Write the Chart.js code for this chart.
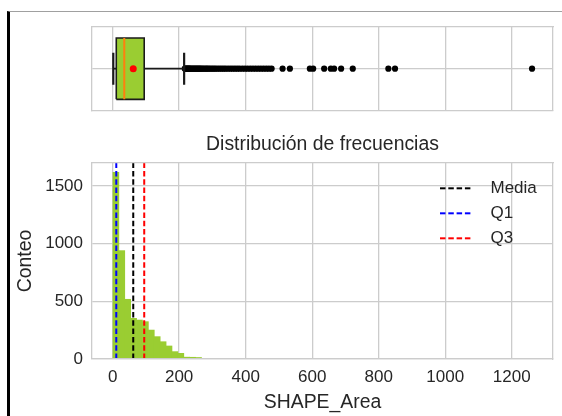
<!DOCTYPE html>
<html><head><meta charset="utf-8">
<script src="https://cdn.jsdelivr.net/npm/chart.js@4.4.1/dist/chart.umd.min.js"></script>
<style>
html,body{margin:0;padding:0;background:#fff;width:562px;height:416px;overflow:hidden;}
#frame{position:absolute;left:7px;top:11px;width:600px;height:420px;border-left:3px solid #000;border-top:1px solid #a0a0a0;}
canvas{position:absolute;left:0;}
#box{top:0;}
#hist{top:120px;}
</style></head><body>
<div id="frame"></div>
<canvas id="box" width="562" height="125"></canvas>
<canvas id="hist" width="562" height="296"></canvas>
<script>
// ---- data ----
const binLeft = [1, 18.75, 36.5, 54.25, 72, 89.75, 107.5, 125.25, 143, 160.75,
  178.5, 196.25, 214, 231.75, 249.5, 267.25, 285, 302.75, 320.5, 338.25,
  356, 373.75, 391.5, 409.25, 427, 444.75, 462.5,
  498, 515.75, 586.75, 622.25, 640, 657.75, 675.5, 711, 817.5, 835.25, 1243.5];
const binCounts = [1618, 940, 518, 353, 338, 324, 251, 194, 150, 113,
  64, 49, 16, 15, 13, 8, 7, 6, 5, 4,
  4, 3, 2, 2, 2, 1, 1,
  1, 1, 2, 1, 1, 1, 1, 1, 2, 1, 1];
const binWidth = 17.75;

const meanValue = 62;
const q1Value = 11;
const medianValue = 35;
const q3Value = 95;
const whiskerLow = 2;
const whiskerHigh = 215;
const outliers = [217, 219, 221, 223, 225, 227, 229, 231, 233, 236, 239, 242, 245, 248,
  251, 254, 257, 260, 263, 266, 270, 274, 278, 282, 286, 290, 295, 300, 305, 310,
  316, 322, 328, 334, 340, 347, 354, 361, 368, 375, 382, 390, 398, 406, 414, 422,
  430, 438, 446, 454, 462, 470, 478,
  511, 533, 593, 603, 636, 656, 666, 687, 722, 829, 849, 1261];

const xTickValues = [0, 200, 400, 600, 800, 1000, 1200];
const xTickLabels = ['0', '200', '400', '600', '800', '1000', '1200'];
const yTickValues = [0, 500, 1000, 1500];
const yTickLabels = ['0', '500', '1000', '1500'];
const legendLabels = ['Media', 'Q1', 'Q3'];
const titleText = 'Distribución de frecuencias';
const xTitle = 'SHAPE_Area';
const yTitle = 'Conteo';

// ---- style ----
const FONT = "'Liberation Sans', Arial, Helvetica, sans-serif";
const TXT = '#262626';
const GRID = '#cccccc';
const GW = 1.3;
const GREEN = '#9acd32';
const X_MIN = -62, X_MAX = 1324;
const Y_MAX = 1700;
const DASH = [5.5, 2.8];
const boxHalf = 0.365, capHalf = 0.19;

Chart.defaults.font.family = FONT;
Chart.defaults.color = TXT;
Chart.defaults.animation = false;

function hiddenAxis(pos) {
  const horiz = pos === 'top' || pos === 'bottom';
  return {
    type: 'linear', position: pos, display: true,
    ticks: {display: false}, grid: {display: false, drawTicks: false},
    border: {display: true, color: GRID, width: GW, z: 1},
    afterFit: s => { if (horiz) s.height = 0; else s.width = 0; }
  };
}

// ---- box plot ----
const boxPoly = [
  {x: q1Value, y: -boxHalf}, {x: q3Value, y: -boxHalf},
  {x: q3Value, y: boxHalf}, {x: q1Value, y: boxHalf}, {x: q1Value, y: -boxHalf}
];
function seg(data, color, w) {
  return {type: 'line', data, borderColor: color, backgroundColor: color, borderWidth: w,
    pointRadius: 0, pointHoverRadius: 0, fill: false, tension: 0};
}
new Chart(document.getElementById('box'), {
  type: 'scatter',
  data: {datasets: [
    {type: 'scatter', data: [{x: meanValue, y: 0}], pointRadius: 3.5, backgroundColor: '#ff0000', borderWidth: 0},
    seg([{x: medianValue, y: -boxHalf}, {x: medianValue, y: boxHalf}], '#ff7f0e', 2),
    {type: 'line', data: boxPoly, borderColor: '#1a1a1a', borderWidth: 1.6, backgroundColor: GREEN,
      fill: 'shape', pointRadius: 0, tension: 0},
    seg([{x: whiskerLow, y: 0}, {x: q1Value, y: 0}], '#1a1a1a', 1.7),
    seg([{x: q3Value, y: 0}, {x: whiskerHigh, y: 0}], '#1a1a1a', 1.7),
    seg([{x: whiskerLow, y: -capHalf}, {x: whiskerLow, y: capHalf}], '#1a1a1a', 2.2),
    seg([{x: whiskerHigh, y: -capHalf}, {x: whiskerHigh, y: capHalf}], '#1a1a1a', 2.2),
    {type: 'scatter', data: outliers.map(v => ({x: v, y: 0})), pointRadius: 3.1, backgroundColor: '#000', borderWidth: 0}
  ]},
  options: {
    responsive: false, animation: false,
    layout: {padding: {left: 92, right: 9, top: 26.7, bottom: 14.3}},
    plugins: {legend: {display: false}, tooltip: {enabled: false}, title: {display: false}},
    scales: {
      x: {type: 'linear', position: 'bottom', min: X_MIN, max: X_MAX,
        afterBuildTicks: s => { s.ticks = xTickValues.map(v => ({value: v})); },
        ticks: {display: false}, grid: {color: GRID, lineWidth: GW, drawTicks: false},
        border: {display: true, color: GRID, width: GW},
        afterFit: s => { s.height = 0; }},
      y: {type: 'linear', position: 'left', min: -0.5, max: 0.5,
        afterBuildTicks: s => { s.ticks = [{value: 0}]; },
        ticks: {display: false}, grid: {color: GRID, lineWidth: GW, drawTicks: false},
        border: {display: true, color: GRID, width: GW},
        afterFit: s => { s.width = 0; }},
      xTop: hiddenAxis('top'),
      yRight: hiddenAxis('right')
    }
  }
});

// ---- histogram ----
function legendSymbol(color) {
  const c = document.createElement('canvas');
  c.width = 42; c.height = 6;
  const g = c.getContext('2d');
  g.strokeStyle = color; g.lineWidth = 2; g.setLineDash(DASH);
  g.beginPath(); g.moveTo(0, 3); g.lineTo(33, 3); g.stroke();
  return c;
}
const lineColors = ['#000000', '#0000ff', '#ff0000'];
const lineValues = [meanValue, q1Value, q3Value];
const legendSyms = lineColors.map(legendSymbol);

function vline(i) {
  return {type: 'line', label: legendLabels[i],
    data: [{x: lineValues[i], y: 0}, {x: lineValues[i], y: Y_MAX}],
    borderColor: lineColors[i], backgroundColor: lineColors[i], borderWidth: 2, borderDash: DASH,
    pointRadius: 0, pointHoverRadius: 0, fill: false, tension: 0};
}

const placeLegend = {
  id: 'placeLegend',
  afterUpdate(chart) {
    const lg = chart.legend, ca = chart.chartArea;
    if (!lg || !ca) return;
    lg.left = ca.right - 121;
    lg.top = ca.top + 8.8;
    lg.right = lg.left + 125;
    lg.bottom = lg.top + 100;
    lg.width = lg.right - lg.left;
    lg.height = lg.bottom - lg.top;
  }
};

new Chart(document.getElementById('hist'), {
  type: 'scatter',
  data: {datasets: [
    vline(0), vline(1), vline(2),
    {type: 'bar', label: 'hist',
      data: binLeft.map((l, i) => ({x: l + binWidth / 2, y: binCounts[i]})),
      backgroundColor: GREEN, borderWidth: 0, barPercentage: 1, categoryPercentage: 1, grouped: false,
      inflateAmount: ctx => (ctx.raw && ctx.raw.y >= 10 ? 0.33 : 0)}
  ]},
  options: {
    responsive: false, animation: false,
    layout: {padding: {left: 0, right: 9, top: 0, bottom: 0}},
    plugins: {
      tooltip: {enabled: false},
      title: {display: true, text: titleText, fullSize: false, color: TXT,
        font: {size: 19.4, weight: 'normal', family: FONT}, padding: {top: 13.36, bottom: 6.36}},
      legend: {display: true, position: 'chartArea', align: 'start',
        labels: {usePointStyle: true, pointStyleWidth: 42, padding: 8, color: TXT,
          font: {size: 17, family: FONT},
          generateLabels: chart => {
            const items = Chart.defaults.plugins.legend.labels.generateLabels(chart);
            return items.filter(it => it.datasetIndex < 3)
              .map(it => Object.assign(it, {pointStyle: legendSyms[it.datasetIndex]}));
          }}}
    },
    scales: {
      x: {type: 'linear', position: 'bottom', min: X_MIN, max: X_MAX, offset: false,
        afterBuildTicks: s => { s.ticks = xTickValues.map(v => ({value: v})); },
        ticks: {padding: 8, color: TXT, font: {size: 17}, maxRotation: 0, autoSkip: false,
          callback: (v, i) => xTickLabels[i]},
        grid: {color: GRID, lineWidth: GW, drawTicks: false, offset: false},
        border: {display: true, color: GRID, width: GW, z: 1},
        title: {display: true, text: xTitle, color: TXT, font: {size: 19.4}, padding: {top: 0, bottom: 1.36}},
        afterFit: s => { s.height = 57; }},
      y: {type: 'linear', position: 'left', min: 0, max: Y_MAX,
        afterBuildTicks: s => { s.ticks = yTickValues.map(v => ({value: v})); },
        ticks: {padding: 9, color: TXT, font: {size: 17}, autoSkip: false,
          callback: (v, i) => yTickLabels[i]},
        grid: {color: GRID, lineWidth: GW, drawTicks: false},
        border: {display: true, color: GRID, width: GW},
        title: {display: true, text: yTitle, color: TXT, font: {size: 19.4}, padding: {top: 14, bottom: 0}},
        afterFit: s => { s.width = 92; }},
      xTop: hiddenAxis('top'),
      yRight: hiddenAxis('right')
    }
  },
  plugins: [placeLegend]
});
</script>
</body></html>
